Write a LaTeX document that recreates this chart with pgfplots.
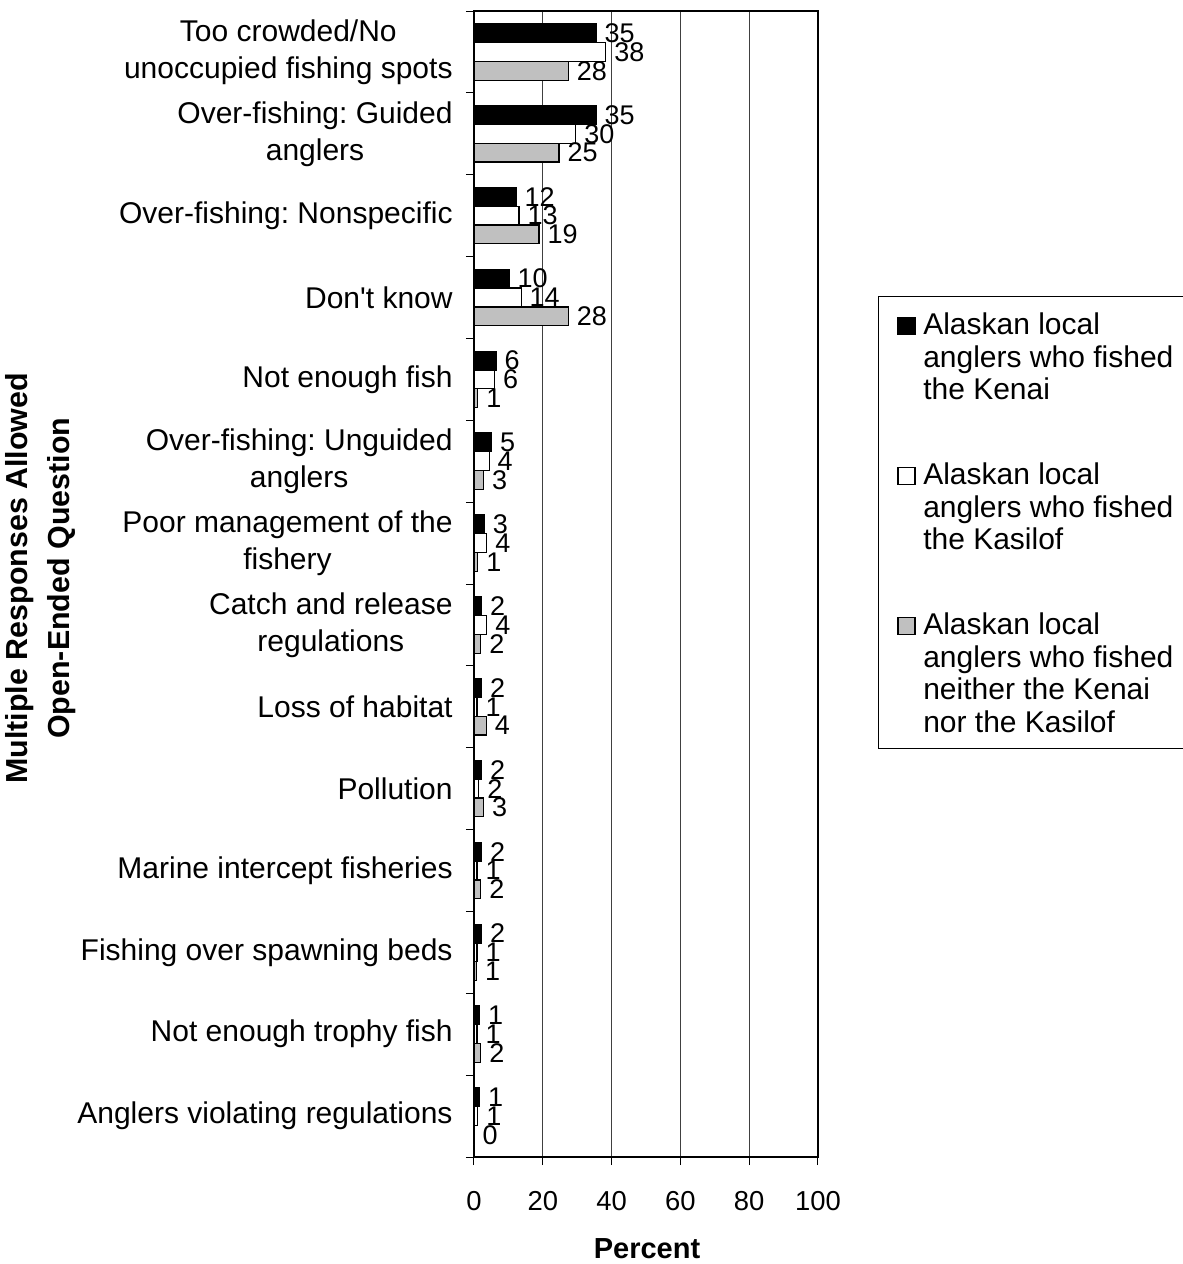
\documentclass[border=0pt]{standalone}
\usepackage{fontspec}
\setmainfont{Liberation Sans}
\usepackage{pgfplots}
\pgfplotsset{compat=1.18}
\usepackage{pgfplotstable}
\frenchspacing

\pgfplotstableread{
y x lab
0 35.5 35
1 35.5 35
2 12.2 12
3 10.2 10
4 6.4 6
5 5.1 5
6 3.0 3
7 2.2 2
8 2.2 2
9 2.2 2
10 2.2 2
11 2.2 2
12 1.6 1
13 1.6 1
}\kenai
\pgfplotstableread{
y x lab
0 38.3 38
1 29.6 30
2 13.1 13
3 13.7 14
4 6.0 6
5 4.4 4
6 3.7 4
7 3.7 4
8 0.9 1
9 1.4 2
10 0.9 1
11 0.9 1
12 0.9 1
13 1.1 1
}\kasilof
\pgfplotstableread{
y x lab
0 27.4 28
1 24.7 25
2 18.9 19
3 27.4 28
4 1.1 1
5 2.8 3
6 1.1 1
7 2.0 2
8 3.6 4
9 2.8 3
10 2.0 2
11 0.7 1
12 2.0 2
13 0 0
}\neither

\newcommand{\lgfont}{\fontsize{15}{16.25}\selectfont}
\begin{document}
\begin{tikzpicture}
\begin{axis}[
  scale only axis,
  width=172pt, height=573pt,
  xbar,
  y dir=reverse,
  xmin=0, xmax=100,
  ymin=-0.5, ymax=13.5,
  bar width=0.23,
  axis line style={line width=1pt, black},
  xtick={0,20,...,100},
  xmajorgrids,
  major grid style={black!75, line width=0.5pt},
  ytick={0,...,13},
  yticklabels={{Too crowded/No\\unoccupied fishing spots},{Over-fishing: Guided\\anglers},{Over-fishing: Nonspecific},{Don\textquotesingle t know},{Not enough fish},{Over-fishing: Unguided\\anglers},{Poor management of the\\fishery},{Catch and release\\regulations},{Loss of habitat},{Pollution},{Marine intercept fisheries},{Fishing over spawning beds},{Not enough trophy fish},{Anglers violating regulations}},
  minor ytick={-0.5,0.5,...,13.5},
  tick align=outside,
  y tick style={draw=none},
  minor y tick style={draw=black, line width=0.5pt},
  minor tick length=4pt,
  x tick style={black, line width=0.5pt},
  major tick length=4pt,
  xtick pos=bottom,
  ytick pos=left,
  yticklabel style={font=\fontsize{15}{18.5}\selectfont, align=center, inner sep=0pt, xshift=-6.5pt},
  xticklabel style={font=\fontsize{13.7}{16}\selectfont, inner sep=0pt, yshift=-13pt},
  /pgf/number format/assume math mode=true,
  xlabel={Percent},
  xlabel style={font=\fontsize{14.5}{17}\bfseries, at={(axis description cs:0.503,-0.0802)}, anchor=center},
  ylabel={Multiple Responses Allowed\\Open-Ended Question},
  ylabel style={font=\fontsize{15.2}{21}\bfseries, align=center, at={(axis description cs:-1.2587,0.505)}, anchor=center},
  nodes near coords,
  point meta=explicit symbolic,
  every node near coord/.append style={font=\fontsize{13.5}{16}\selectfont, anchor=west, inner sep=0pt, xshift=4pt, black},
  legend style={at={(axis description cs:1.1744,0.751)}, anchor=north west, draw=black, line width=0.5pt, inner xsep=9.5pt, inner ysep=8pt, row sep=0pt, column sep=3.8pt, nodes={text depth=, inner sep=0pt, anchor=base west}, font=\lgfont},
  legend image code/.code={\draw[#1, line width=0.6pt] (0pt,0pt) rectangle (8.5pt,8.5pt);},
  clip=false,
]
\addplot[draw=black, fill=black, line width=0.6pt, bar shift=-0.23] table[x=x, y=y, meta=lab] {\kenai};
\addlegendentry{\parbox[t][75pt][t]{128pt}{\lgfont\raggedright Alaskan local\\anglers who fished\\the Kenai}}
\addplot[draw=black, fill=white, line width=0.6pt, bar shift=0] table[x=x, y=y, meta=lab] {\kasilof};
\addlegendentry{\parbox[t][75pt][t]{128pt}{\lgfont\raggedright Alaskan local\\anglers who fished\\the Kasilof}}
\addplot[draw=black, fill={rgb,255:red,192;green,192;blue,192}, line width=0.6pt, bar shift=0.23] table[x=x, y=y, meta=lab] {\neither};
\addlegendentry{\parbox[t][60pt][t]{128pt}{\lgfont\raggedright Alaskan local\\anglers who fished\\neither the Kenai\\nor the Kasilof}}
\coordinate (O) at (axis description cs:0,0);
\end{axis}
\pgfresetboundingbox
\path[use as bounding box] (O) ++(-237pt,-53.5pt) rectangle ++(591.5pt,632pt);
\end{tikzpicture}
\end{document}
